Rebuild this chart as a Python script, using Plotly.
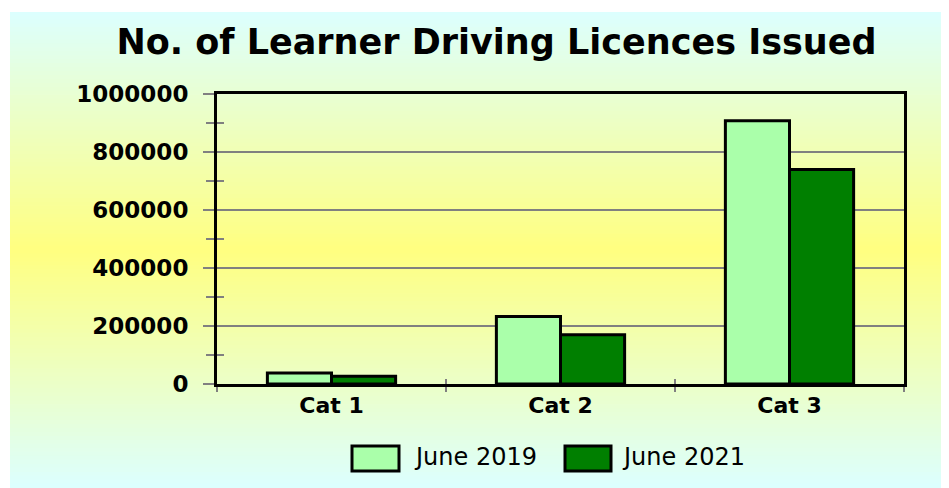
import plotly.graph_objects as go

# ---- data ----
categories = ["Cat 1", "Cat 2", "Cat 3"]
series_names = ["June 2019", "June 2021"]
june_2019 = [38000, 233000, 908000]
june_2021 = [27000, 170000, 740000]
y_ticks = [0, 200000, 400000, 600000, 800000, 1000000]
title_text = "No. of Learner Driving Licences Issued"

# ---- styling ----
OFF = 8                      # page body margin offset
PAGE_W, PAGE_H = 949, 488
W, H = PAGE_W - OFF, PAGE_H - OFF
# plot area in page pixels
PL, PR, PT, PB = 217, 904, 94, 384
L, T = PL - OFF, PT - OFF
R, B = W - (PR - OFF), H - (PB - OFF)
PW, PH = PR - PL, PB - PT
colors = ["#AAFFAA", "#007F00"]
GRAY = "#808080"
FONT = "DejaVu Sans"


def px_x(px):  # page pixel -> paper x
    return (px - PL) / PW


def px_y(py):  # page pixel -> paper y
    return (PB - py) / PH


fig = go.Figure()
for name, vals, col in zip(series_names, [june_2019, june_2021], colors):
    fig.add_trace(go.Bar(
        x=categories, y=vals, name=name, showlegend=False,
        marker=dict(color=col, line=dict(color="black", width=3)),
    ))

# helper (empty) trace so the overlay axes used for crossing ticks are drawn
fig.add_trace(go.Scatter(x=[], y=[], xaxis="x2", yaxis="y2", showlegend=False, hoverinfo="skip"))

# ---- gradient background (cyan -> yellow -> cyan) ----
top_c = (220, 255, 255)
mid_c = (255, 255, 128)
y_top, y_bot = 12, PAGE_H
n = 120
shapes = []
for i in range(n):
    a = y_top + (y_bot - y_top) * i / n
    b = y_top + (y_bot - y_top) * (i + 1) / n
    t = (i + 0.5) / n
    f = 1 - abs(t - 0.5) * 2
    c = tuple(round(top_c[k] + (mid_c[k] - top_c[k]) * f) for k in range(3))
    shapes.append(dict(type="rect", xref="paper", yref="paper", layer="below",
                       x0=px_x(10), x1=px_x(PAGE_W + 2), y0=px_y(min(b + 0.5, PAGE_H + 2)),
                       y1=px_y(a - 0.5 if i else a),
                       line=dict(width=0), fillcolor="rgb(%d,%d,%d)" % c))

# ---- custom legend ----
leg_items = [(352, 399, 412), (565, 611, 620)]
annotations = []
for (sx0, sx1, tx), name, col in zip(leg_items, series_names, colors):
    shapes.append(dict(type="rect", xref="paper", yref="paper", layer="above",
                       x0=px_x(sx0), x1=px_x(sx1), y0=px_y(471), y1=px_y(446),
                       line=dict(color="black", width=3), fillcolor=col))
    annotations.append(dict(xref="paper", yref="paper", x=px_x(tx), y=px_y(457),
                            xanchor="left", yanchor="middle", showarrow=False,
                            text=name, font=dict(family=FONT, size=24, color="black")))

fig.update_layout(
    width=W, height=H, autosize=False,
    margin=dict(l=L, r=R, t=T, b=B, pad=0),
    paper_bgcolor="white", plot_bgcolor="rgba(0,0,0,0)",
    barmode="group", bargap=0.44, bargroupgap=0,
    title=dict(text=title_text, x=(496.5 - OFF) / W, xref="container", xanchor="center",
               y=1 - (42 - OFF) / H, yref="container", yanchor="middle",
               font=dict(family=FONT, size=35, color="black", weight="bold")),
    shapes=shapes, annotations=annotations,
    xaxis=dict(type="category", categoryarray=categories, range=[-0.5, 2.5],
               tickson="boundaries", ticks="outside", ticklen=5, tickwidth=2, tickcolor=GRAY,
               showline=True, linecolor="black", linewidth=3, mirror=True, showgrid=False,
               tickfont=dict(family=FONT, size=22, color="black", weight="bold")),
    xaxis2=dict(type="category", categoryarray=categories, range=[-0.5, 2.5], overlaying="x",
                anchor="y", tickson="boundaries", ticks="inside", ticklen=5, tickwidth=2,
                tickcolor=GRAY, showticklabels=False, showline=False, showgrid=False),
    yaxis=dict(range=[0, 1000000], tickvals=y_ticks, tickformat="d",
               showgrid=True, gridcolor=GRAY, gridwidth=2, zeroline=False,
               showline=True, linecolor="black", linewidth=3, mirror=True,
               ticks="outside", ticklen=11, tickwidth=2, tickcolor=GRAY, ticklabelstandoff=10,
               minor=dict(dtick=100000, tick0=0, ticks="outside", ticklen=8, tickwidth=2,
                          tickcolor=GRAY, showgrid=False),
               tickfont=dict(family=FONT, size=23, color="black", weight="bold")),
    yaxis2=dict(range=[0, 1000000], overlaying="y", anchor="x", side="left",
                tickvals=[v * 100000 for v in range(11)], ticks="inside", ticklen=7,
                tickwidth=2, tickcolor=GRAY, showticklabels=False, showline=False,
                showgrid=False, zeroline=False),
)

fig.write_html("out.html")
